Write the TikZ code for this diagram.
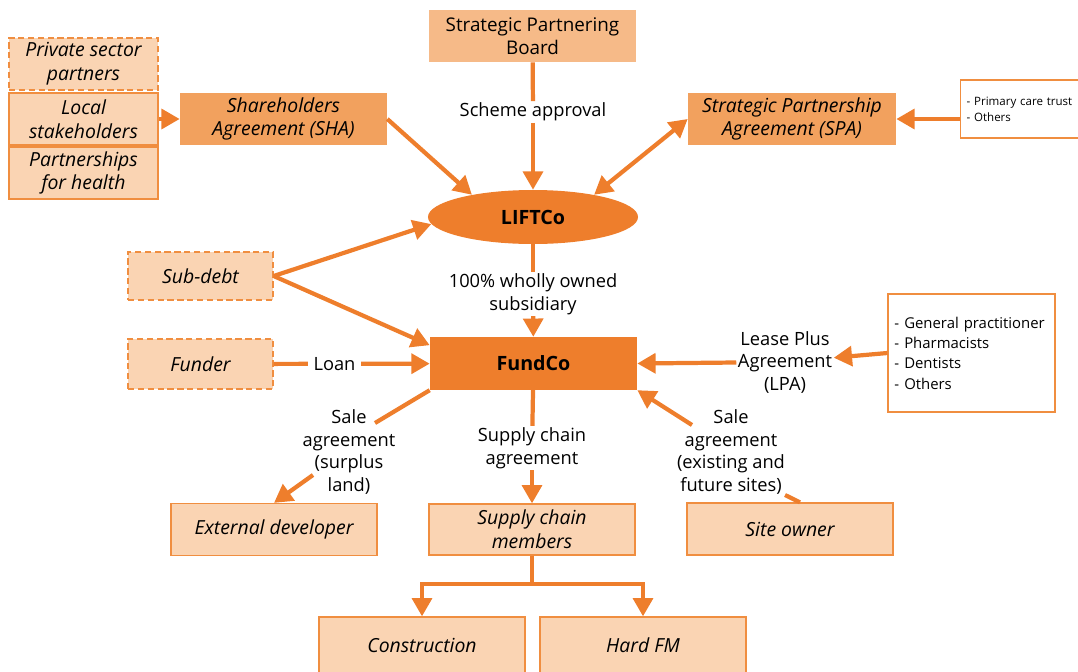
\documentclass[tikz,border=0pt]{standalone}
\usepackage{fontspec}
\setmainfont{Open Sans}
\usetikzlibrary{arrows.meta,shapes.geometric,calc}
\definecolor{fundorange}{HTML}{EE7E2C}
\definecolor{agreeorange}{HTML}{F2A15E}
\definecolor{boardorange}{HTML}{F6BA88}
\definecolor{peach}{HTML}{FAD4B3}
\definecolor{peachedge}{HTML}{F08E40}

\begin{document}
\begin{tikzpicture}[x=0.025cm,y=-0.025cm,>={Triangle[length=13pt,width=14pt]},
  font=\fontsize{13}{16}\selectfont,
  link/.style={draw=fundorange,line width=3pt},
  arr/.style={link,->},
  dblarr/.style={link,<->},
  peachbox/.style={draw=peachedge,line width=0.9pt,fill=peach,align=center,
    font=\fontsize{13.8}{17}\selectfont\itshape,minimum width=5.15cm,minimum height=1.3cm,inner sep=1pt},
  dashbox/.style={peachbox,dash pattern=on 4.5pt off 2.5pt},
  agreebox/.style={fill=agreeorange,align=center,font=\fontsize{13.8}{17}\selectfont\itshape,
    minimum width=5.2cm,minimum height=1.3cm,inner sep=1pt},
  keybox/.style={fill=fundorange,font=\fontsize{14}{16}\selectfont\bfseries},
  listbox/.style={draw=peachedge,line width=0.8pt,align=left,inner sep=4pt},
  lbl/.style={fill=white,align=center,inner sep=1pt}]
\useasboundingbox (0,0) rectangle (1078,671);

\node[fill=boardorange,align=center,minimum width=5.175cm,minimum height=1.3cm,inner sep=1pt,
  font=\fontsize{13.4}{16}\selectfont] (board) at (532.5,36) {Strategic Partnering\\Board};

\node[dashbox,minimum width=3.725cm] (priv) at (83.5,64) {Private sector\\partners};
\node[peachbox,minimum width=3.725cm] (loc) at (83.5,119) {Local\\stakeholders};
\node[peachbox,minimum width=3.725cm] (pfh) at (83.5,173) {Partnerships\\for health};

\node[agreebox,minimum width=5.175cm] (sha) at (283.5,119) {Shareholders\\Agreement (SHA)};
\node[agreebox] (spa) at (792,119) {Strategic Partnership\\Agreement (SPA)};
\node[listbox,anchor=west,inner xsep=2pt,font=\fontsize{8.2}{11.2}\selectfont,minimum width=3.3cm,minimum height=1.45cm,text width=3cm] (pct) at (960,109) {- Primary care trust\\- Others};

\node[keybox,ellipse,minimum width=5.25cm,minimum height=1.35cm] (lift) at (533,217) {LIFTCo};
\node[keybox,minimum width=5.175cm,minimum height=1.32cm] (fund) at (533.5,363.5) {FundCo};

\node[dashbox,minimum width=3.625cm,minimum height=1.2cm] (subdebt) at (200.5,276) {Sub-debt};
\node[dashbox,minimum width=3.625cm,minimum height=1.25cm] (funder) at (200.5,364) {Funder};

\node[listbox,font=\fontsize{10.6}{14.5}\selectfont,minimum width=4.175cm,minimum height=2.95cm,text width=3.85cm] (gp) at (971.5,353) {- General practitioner\\- Pharmacists\\- Dentists\\- Others};

\node[peachbox] (ext) at (274,529.5) {External developer};
\node[peachbox,minimum height=1.275cm] (scm) at (532,529.5) {Supply chain\\members};
\node[peachbox] (site) at (790,529) {Site owner};
\node[peachbox,minimum height=1.4cm] (cons) at (422,645) {Construction};
\node[peachbox,minimum height=1.4cm] (hard) at (643,645) {Hard FM};

\node[lbl] (scheme) at (533,112) {Scheme approval};
\node[lbl] (owned) at (533,294) {100\% wholly owned\\subsidiary};
\node[lbl] (lpa) at (785,362) {Lease Plus\\Agreement\\(LPA)};
\node[lbl] (surplus) at (349,452) {Sale\\agreement\\(surplus\\land)};
\node[lbl] (supply) at (532,448) {Supply chain\\agreement};
\node[lbl] (existing) at (731,452) {Sale\\agreement\\(existing and\\future sites)};

\draw[arr] (loc) -- (sha);
\draw[arr] (sha.east) -- (lift.160);
\draw[link] (board) -- (scheme);
\draw[arr] (scheme) -- (lift);
\draw[dblarr] (lift.20) -- (spa.west);
\draw[arr] (spa.east -| pct.west) -- (spa.east);
\draw[arr] (subdebt.east) -- (lift.184);
\draw[arr] (subdebt.east) -- (fund.170);
\draw[link] (lift) -- (owned);
\draw[arr] (owned) -- (fund);
\draw[arr] (funder) -- node[lbl,pos=0.39,inner sep=4pt] (loan) {Loan} (fund);
\draw[arr] (gp.west) -- (lpa);
\draw[arr] (lpa) -- (fund.east);
\draw[link] (fund.south west) -- ($(surplus)+(26,-29)$);
\draw[arr] ($(surplus)+(-36,23)$) -- (ext.north);
\draw[link] (fund) -- (supply);
\draw[arr] (supply) -- (scm);
\draw[link] ($(site.north)+(10,0)$) -- ($(existing)+(54,43)$);
\draw[arr] ($(existing)+(-39,-27)$) -- (fund.south east);
\draw[arr] (scm.south) -- ++(0,28) -| (cons.north);
\draw[arr] (scm.south) -- ++(0,28) -| (hard.north);
\end{tikzpicture}
\end{document}
